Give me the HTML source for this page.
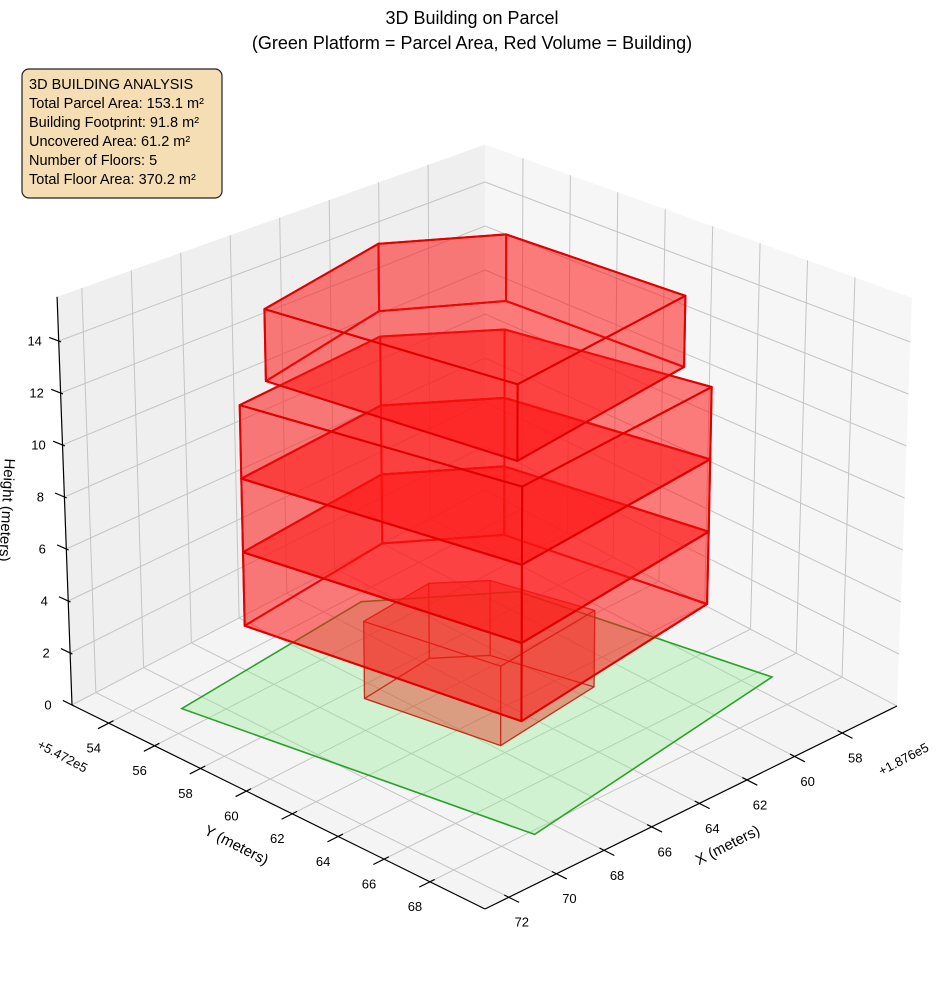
<!DOCTYPE html>
<html><head><meta charset="utf-8"><style>
body{margin:0;background:#fff;}
svg{display:block;font-family:"Liberation Sans","DejaVu Sans",sans-serif;}
</style></head><body>
<svg id="chart" width="944" height="992" viewBox="0 0 944 992" xmlns="http://www.w3.org/2000/svg">
<text x="472" y="24" text-anchor="middle" font-size="18">3D Building on Parcel</text>
<text x="472" y="49" text-anchor="middle" font-size="18">(Green Platform = Parcel Area, Red Volume = Building)</text>
<g id="panes"></g>
<g id="grid"></g>
<g id="marks"></g>
<g id="axes"></g>
<g>
<rect x="22" y="69" width="200" height="129" rx="7" fill="#f5deb3" stroke="#222" stroke-width="1.2"/>
<text font-size="14.5" fill="#000">
<tspan x="29" y="89">3D BUILDING ANALYSIS</tspan>
<tspan x="29" y="108">Total Parcel Area: 153.1 m²</tspan>
<tspan x="29" y="127">Building Footprint: 91.8 m²</tspan>
<tspan x="29" y="146">Uncovered Area: 61.2 m²</tspan>
<tspan x="29" y="165">Number of Floors: 5</tspan>
<tspan x="29" y="184">Total Floor Area: 370.2 m²</tspan>
</text>
</g>
</svg>
<script>
// ---- data ----
const xTicks = [58, 60, 62, 64, 66, 68, 70, 72];
const yTicks = [54, 56, 58, 60, 62, 64, 66, 68];
const zTicks = [0, 2, 4, 6, 8, 10, 12, 14];
const xLimits = [55.7, 73.0];
const yLimits = [52.4, 70.4];
const zLimits = [0, 15.7];
const parcelX = [70.9, 62.8, 59.1, 57.2, 68.8];
const parcelY = [55.0, 54.4, 57.4, 66.5, 68.2];
const groundX = [66.7, 63.7, 62.3, 61.4, 65.8];
const groundY = [58.6, 58.3, 59.5, 63.1, 63.6];
const groundLevels = [0, 3];
const mainX = [66.2, 60.0, 57.1, 55.6, 64.35];
const mainY = [52.85, 52.4, 54.7, 62.0, 63.0];
const mainLevels = [0, 3, 6, 9];
const topX = [64.5, 58.8, 55.7, 55.2, 63.2];
const topY = [52.2, 51.1, 53.3, 60.4, 61.6];
const topLevels = [9, 12];

// ---- projection ----
const F=[485,909], R=[897,706], L=[72,705], B=[485,490];
function proj(x,y,z){
  const p=(xLimits[1]-x)/(xLimits[1]-xLimits[0]);
  const q=(yLimits[1]-y)/(yLimits[1]-yLimits[0]);
  const bx=F[0]+p*(R[0]-F[0])+q*(L[0]-F[0])+p*q*(B[0]-R[0]-L[0]+F[0]);
  const by=F[1]+p*(R[1]-F[1])+q*(L[1]-F[1])+p*q*(B[1]-R[1]-L[1]+F[1]);
  const zs=29*(1-p)*(1-q)+26*p*(1-q)+26*(1-p)*q+22*p*q;
  return [485+(bx-485)*(1+0.0023*z), by-z*zs];
}
const NS="http://www.w3.org/2000/svg";
function mk(tag,attrs,parent){const e=document.createElementNS(NS,tag);for(const k in attrs)e.setAttribute(k,attrs[k]);parent.appendChild(e);return e;}
function pts(arr){return arr.map(p=>p[0].toFixed(1)+","+p[1].toFixed(1)).join(" ");}
const [x0,x1]=xLimits,[y0,y1]=yLimits,[z0,z1]=zLimits;
const panes=document.getElementById('panes'),grid=document.getElementById('grid'),marks=document.getElementById('marks'),axes=document.getElementById('axes');

// panes
let e=mk('polygon',{points:pts([proj(x1,y0,0),proj(x0,y0,0),proj(x0,y0,z1),proj(x1,y0,z1)]),fill:'#efefef'},panes);


e=mk('polygon',{points:pts([proj(x0,y0,0),proj(x0,y1,0),proj(x0,y1,z1),proj(x0,y0,z1)]),fill:'#f6f6f6'},panes);


e=mk('polygon',{points:pts([proj(x1,y1,0),proj(x0,y1,0),proj(x0,y0,0),proj(x1,y0,0)]),fill:'#f4f4f4'},panes);



function gl(a,b,name){const l=mk('line',{x1:a[0],y1:a[1],x2:b[0],y2:b[1],stroke:'#c4c4c4','stroke-width':1},grid);

}
xTicks.forEach(v=>{gl(proj(v,y0,0),proj(v,y1,0),'x-grid-floor');gl(proj(v,y0,0),proj(v,y0,z1),'x-grid-wall');});
yTicks.forEach(v=>{gl(proj(x0,v,0),proj(x1,v,0),'y-grid-floor');gl(proj(x0,v,0),proj(x0,v,z1),'y-grid-wall');});
zTicks.forEach(v=>{gl(proj(x1,y0,v),proj(x0,y0,v),'z-grid-left-wall');gl(proj(x0,y0,v),proj(x0,y1,v),'z-grid-right-wall');});

// parcel
const parcelPts=parcelX.map((x,i)=>proj(x,parcelY[i],0));
e=mk('polygon',{points:pts(parcelPts),fill:'rgba(144,238,144,0.35)',stroke:'#2ca02c','stroke-width':1.6},marks);



function prism(X,Y,za,zb,fill,stroke,sw,name){
  const g=mk('g',{},marks);
  
  
  const n=X.length;
  const bot=X.map((x,i)=>proj(x,Y[i],za)), top=X.map((x,i)=>proj(x,Y[i],zb));
  const faces=[bot];
  for(let i=0;i<n;i++){const j=(i+1)%n;faces.push([bot[i],bot[j],top[j],top[i]]);}
  faces.push(top);
  faces.forEach(f=>{const p=mk('polygon',{points:pts(f),fill:fill,stroke:stroke,'stroke-width':sw,'stroke-linejoin':'round'},g);
    
    });
}
prism(groundX,groundY,groundLevels[0],groundLevels[1],'rgba(230,40,20,0.24)','rgba(190,40,20,0.8)',1.2,'ground-floor-block');
for(let k=0;k<mainLevels.length-1;k++) prism(mainX,mainY,mainLevels[k],mainLevels[k+1],'rgba(255,20,20,0.33)','#e00000',2,'floor-'+(k+1));
prism(topX,topY,topLevels[0],topLevels[1],'rgba(255,20,20,0.33)','#e00000',2,'top-floor');

// axes lines
function al(a,b,name){const l=mk('line',{x1:a[0],y1:a[1],x2:b[0],y2:b[1],stroke:'#000','stroke-width':1.2},axes);

}
function tx(x,y,s,name,size,rot,anchor){const t=mk('text',{x:x,y:y,'font-size':size||13,'text-anchor':anchor||'middle','dominant-baseline':'middle'},axes);
if(rot)t.setAttribute('transform','rotate('+rot+' '+x+' '+y+')');t.textContent=s;

}
al(proj(x1,y0,0),proj(x1,y1,0),'y-axis-line');
al(proj(x1,y1,0),proj(x0,y1,0),'x-axis-line');
al(proj(x1,y0,0),proj(x1,y0,z1),'z-axis-line');
yTicks.forEach(v=>{al(proj(x1-0.2,v,0),proj(x1+0.45,v,0),'y-tick');const p=proj(x1,v,0);tx(p[0]-15,p[1]+26,String(v),'y-tick-label');});
xTicks.forEach(v=>{al(proj(v,y1-0.2,0),proj(v,y1+0.45,0),'x-tick');const p=proj(v,y1,0);tx(p[0]+13,p[1]+26,String(v),'x-tick-label');});
zTicks.forEach(v=>{al(proj(x1,y0+0.1,v),proj(x1,y0-0.4,v),'z-tick');const p=proj(x1,y0,v);tx(p[0]-24,p[1]+1,String(v),'z-tick-label');});
tx(62,757,'+5.472e5','y-offset-label',13,28);
tx(904,760,'+1.876e5','x-offset-label',13,-28);
tx(236,846,'Y (meters)','y-axis-title',15,27);
tx(728,846,'X (meters)','x-axis-title',15,-27);
tx(6,510,'Height (meters)','z-axis-title',15,93);
</script>
</body></html>
